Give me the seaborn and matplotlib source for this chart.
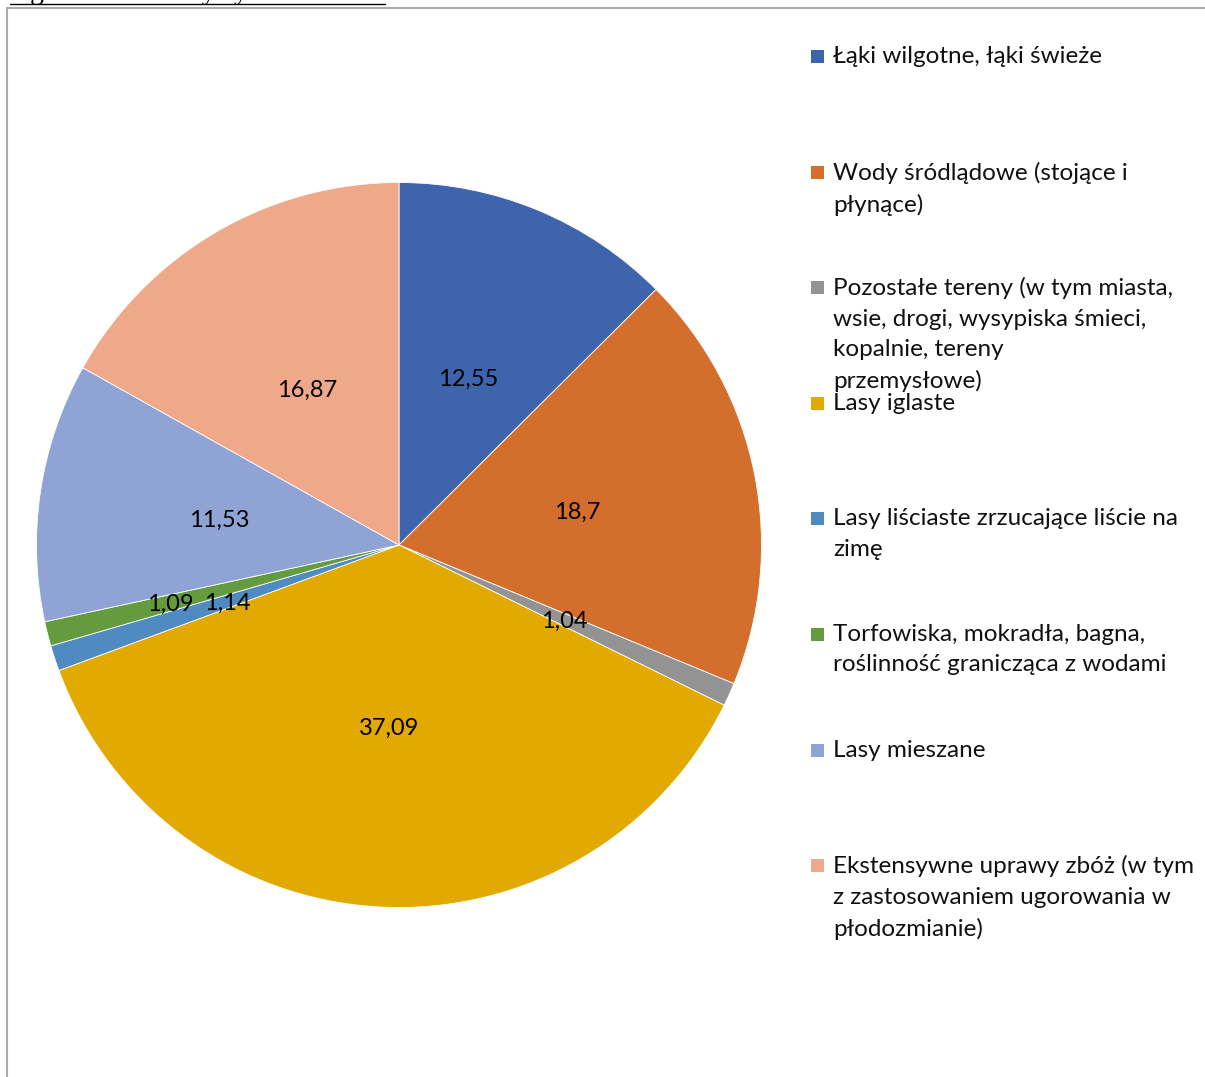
import matplotlib
matplotlib.use("Agg")
import matplotlib.pyplot as plt
from matplotlib.patches import Rectangle
from matplotlib.lines import Line2D
import numpy as np
import seaborn as sns

categories = [
    "Łąki wilgotne, łąki świeże",
    "Wody śródlądowe (stojące i\npłynące)",
    "Pozostałe tereny (w tym miasta,\nwsie, drogi, wysypiska śmieci,\nkopalnie, tereny\nprzemysłowe)",
    "Lasy iglaste",
    "Lasy liściaste zrzucające liście na\nzimę",
    "Torfowiska, mokradła, bagna,\nroślinność granicząca z wodami",
    "Lasy mieszane",
    "Ekstensywne uprawy zbóż (w tym\nz zastosowaniem ugorowania w\npłodozmianie)",
]
shares = [12.55, 18.7, 1.04, 37.09, 1.14, 1.09, 11.53, 16.87]
value_labels = ["12,55", "18,7", "1,04", "37,09", "1,14", "1,09", "11,53", "16,87"]
colors = ["#3E64AD", "#D36E2C", "#939393", "#E2AA00",
          "#4F8BC0", "#649B3F", "#8FA3D4", "#F0A88A"]

sns.set_theme(style="white")
palette = sns.color_palette(colors)
plt.rcParams["font.family"] = ["Lato", "DejaVu Sans"]

W, H = 1205, 1077
fig = plt.figure(figsize=(W / 100, H / 100), dpi=100)

# pie axes: centre (399, 545) px, radius 362.5 px
cx, cy, r = 399, 545, 362.5
ax = fig.add_axes([(cx - r) / W, (H - cy - r) / H, 2 * r / W, 2 * r / H])
wedges, _ = ax.pie(shares, colors=palette, startangle=90, counterclock=False,
                   radius=1, wedgeprops=dict(edgecolor="white", linewidth=0.6))
ax.set_xlim(-1, 1)
ax.set_ylim(-1, 1)
ax.set_aspect("equal")
ax.axis("off")

# value labels at the middle of each wedge
total = sum(shares)
angle = 90.0
for v, lab in zip(shares, value_labels):
    ext = v / total * 360
    mid = np.deg2rad(angle - ext / 2)
    angle -= ext
    dist = 0.65 if lab == "1,09" else 0.5
    ax.text(dist * np.cos(mid), dist * np.sin(mid), lab, ha="center",
            va="center_baseline", fontsize=17, color="black")

# legend
step = 115.6
y0 = 56
for i, (lab, col) in enumerate(zip(categories, palette)):
    y = y0 + i * step
    fig.patches.append(Rectangle((811 / W, 1 - (y + 7) / H), 13 / W, 13 / H,
                                 transform=fig.transFigure, facecolor=col,
                                 edgecolor="none"))
    fig.text(833 / W, 1 - (y - 10) / H, lab, ha="left", va="top",
             fontsize=17.5, color="#111111", linespacing=1.55)

# chart frame
fig.patches.append(Rectangle((7 / W, -0.01), 1.0, 1 - 8 / H + 0.01,
                             transform=fig.transFigure, facecolor="none",
                             edgecolor="#ABABAB", linewidth=1.5))

# section heading above the chart, underlined
fig.text(10 / W, 1 + 1 / H, "Ogólna charakterystyka obszaru", ha="left",
         va="baseline", fontsize=20, family="Liberation Serif", color="black")
fig.lines.append(Line2D([10 / W, 385 / W], [1 - 4 / H, 1 - 4 / H],
                        transform=fig.transFigure, color="black", linewidth=1))

fig.savefig("out.png", dpi=100)
